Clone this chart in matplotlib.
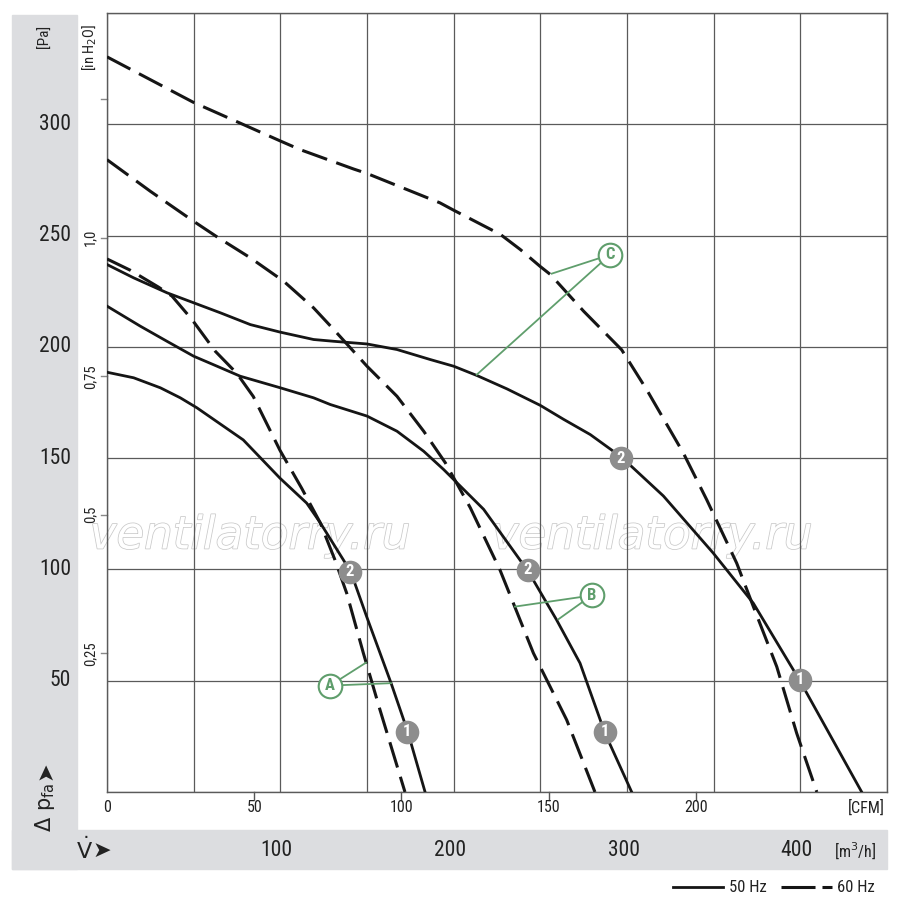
import matplotlib
matplotlib.use('Agg')
import matplotlib.pyplot as plt
from matplotlib.patches import Rectangle
from matplotlib.lines import Line2D
from matplotlib import transforms as mtrans
import matplotlib.patheffects as pe

plt.rcParams['font.family'] = ['Roboto Condensed', 'Roboto', 'DejaVu Sans']
plt.rcParams['lines.scale_dashes'] = False

# curves: flow [m3/h] and pressure [Pa]
a50_q = [0, 15.4, 30.8, 42.3, 51.9, 78.6, 99.8, 115.2, 123, 140.6, 149.8, 163.9, 173.5, 183.5]
a50_p = [188.6, 186.1, 181.6, 177.1, 172.6, 158.2, 141, 129.8, 121, 99, 78.8, 48.9, 27.1, 0]
a60_q = [0, 13.5, 29.8, 37.5, 49, 62.5, 75, 84.4, 99.8, 112.3, 123, 131.5, 138.3, 147.9, 157.5, 171.9]
a60_p = [239.5, 234.4, 226.8, 222.8, 212.3, 198, 188, 177.7, 153.5, 136.5, 121, 104.3, 89.3, 62.4, 36.9, 0]

b50_q = [0, 19.2, 34.6, 50, 63.5, 76.9, 100, 119.2, 128.8, 150, 167.3, 182.7, 194.2, 200, 217.3,
         243.1, 259.4, 272.9, 287.3, 302.7]
b50_p = [218.3, 209.3, 202.5, 195.8, 191.3, 186.8, 181.6, 177.1, 174.1, 168.9, 162.1, 153.1, 144.9,
         140.4, 127, 99, 77.3, 57.9, 26.4, 0]
b60_q = [0, 25, 50, 63.5, 82.7, 101.9, 119.2, 130.8, 150, 167.3, 182.7, 195.2, 209.6, 226.7, 246,
         265.2, 281.5]
b60_p = [284.1, 269.9, 256.4, 249.4, 240, 229.5, 217.5, 207.8, 191.3, 177.8, 162.1, 147.9, 127.7,
         99.8, 62.4, 32.4, 0]

c50_q = [0, 15.4, 34.6, 50, 65.4, 82.7, 100, 119.2, 130.8, 150, 167.3, 186.5, 200, 213.5, 230.8,
         250, 263.5, 278.8, 296.9, 321, 349.8, 372.9, 399.8, 435.4]
c50_p = [237, 231, 224.3, 219.8, 215.3, 210, 206.6, 203.3, 202.5, 201.3, 198.8, 194.3, 191.3, 187.1,
         181.1, 173.7, 167.4, 160.6, 150.4, 133, 107.3, 84.8, 49.9, 0]
c60_q = [0, 50, 100, 111.5, 142.3, 150, 192.1, 200, 227, 238.5, 249.8, 255.8, 275, 296.9, 311.4,
         332.5, 346, 363.3, 372.9, 386.4, 397.9, 409.5]
c60_p = [330.3, 309.8, 292.5, 288.6, 279.9, 277.9, 264.7, 261.4, 250.5, 243.7, 236.2, 232.5, 216,
         198.7, 180.7, 152.3, 131.3, 102.8, 83.3, 56.3, 26.4, 0]

# operating points 1 / 2
pt_labels = ['2', '1', '2', '1', '2', '1']
pt_q = [140.2, 173.1, 242.9, 287.2, 296.5, 399.8]
pt_p = [98.9, 27.0, 99.8, 27.0, 149.9, 50.4]

# curve letters and their leader ends
letters = ['A', 'B', 'C']
letter_q = [128.6, 279.6, 290.2]
letter_p = [47.8, 88.3, 241.4]
leader_q = [[149.4, 163.9], [235.4, 260.4], [256.6, 213.3]]
leader_p = [[58.1, 48.9], [83.3, 77.6], [232.9, 187.5]]

pa_ticks = [50, 100, 150, 200, 250, 300]
inh2o_ticks = [0.25, 0.5, 0.75, 1.0, 1.25]
inh2o_labels = ['0,25', '0,5', '0,75', '1,0', '']
cfm_ticks = [50, 100, 150, 200]
m3h_ticks = [100, 200, 300, 400]

PA_PER_INH2O = 249.089
M3H_PER_CFM = 1.69901

W, H = 900, 908
def fx(x):
    return x / W
def fy(y):
    return 1 - y / H

band = '#dcdde0'
grid = '#5a5a5a'
green = '#5f9e6c'
txt = '#222222'

fig = plt.figure(figsize=(9, 9.08), dpi=100)
fig.add_artist(Rectangle((fx(12), fy(869)), fx(77) - fx(12), fy(15) - fy(869),
                         transform=fig.transFigure, color=band, zorder=0))
fig.add_artist(Rectangle((fx(12), fy(869)), fx(887) - fx(12), fy(830) - fy(869),
                         transform=fig.transFigure, color=band, zorder=0))

ax = fig.add_axes([fx(107), fy(792), fx(887) - fx(107), fy(13) - fy(792)])
ax.set_xlim(0, 450)
ax.set_ylim(0, 350)
ax.set_xticks(range(0, 451, 50))
ax.set_yticks(range(0, 351, 50))
ax.grid(True, color=grid, lw=0.9)
ax.tick_params(length=0, labelbottom=False, labelleft=False)
for s in ax.spines.values():
    s.set_color(grid)
    s.set_linewidth(1.0)

# watermark
for q0 in [-10, 222]:
    ax.text(q0, 115, 'ventilatorry.ru', fontsize=32.5, style='italic', family='DejaVu Sans',
            color='white', va='center', ha='left', zorder=1.5, clip_on=False,
            path_effects=[pe.Stroke(linewidth=1.1, foreground='#c9c9c9'), pe.Normal()])

# curves
solid_kw = dict(color='#151515', lw=2.0, zorder=3, solid_joinstyle='round')
dash_kw = dict(color='#151515', lw=2.2, zorder=3, dashes=(19, 7), dash_capstyle='butt',
               dash_joinstyle='round')
ax.plot(a50_q, a50_p, **solid_kw)
ax.plot(b50_q, b50_p, **solid_kw)
ax.plot(c50_q, c50_p, **solid_kw)
ax.plot(a60_q, a60_p, **dash_kw)
ax.plot(b60_q, b60_p, **dash_kw)
ax.plot(c60_q, c60_p, **dash_kw)

# operating points
for lab, q, p in zip(pt_labels, pt_q, pt_p):
    ax.plot(q, p, 'o', ms=17, color='#8d8d8d', mec='none', zorder=5)
    ax.text(q, p, lab, color='white', fontsize=12, fontweight='bold',
            ha='center', va='center', zorder=6)

# curve letters
for lab, q, p, lq, lp in zip(letters, letter_q, letter_p, leader_q, leader_p):
    for q1, p1 in zip(lq, lp):
        ax.plot([q, q1], [p, p1], color=green, lw=1.3, zorder=4)
    ax.plot(q, p, 'o', ms=17, mfc='white', mec=green, mew=1.5, zorder=5)
    ax.text(q, p, lab, color=green, fontsize=12, fontweight='bold',
            ha='center', va='center', zorder=6)

left_t = mtrans.blended_transform_factory(fig.transFigure, ax.transData)
bot_t = mtrans.blended_transform_factory(ax.transData, fig.transFigure)

# Pa axis
for p in pa_ticks:
    fig.text(fx(71), p, str(p), transform=left_t, fontsize=15.5, color=txt,
             ha='right', va='center')
fig.text(fx(45), fy(36), '[Pa]', fontsize=11, rotation=90, ha='center', va='center',
         color=txt)

# in H2O axis
for v, lab in zip(inh2o_ticks, inh2o_labels):
    y = v * PA_PER_INH2O
    ax.plot([fx(101), fx(107)], [y, y], transform=left_t, color='#888888', lw=1,
            clip_on=False)
    if lab:
        fig.text(fx(90), y, lab, transform=left_t, fontsize=10.5, rotation=90,
                 ha='center', va='center', color=txt)
fig.text(fx(90), fy(47), '[in H$_2$O]', fontsize=10.5, rotation=90, ha='center',
         va='center', color=txt)

# CFM axis
fig.text(0, fy(808), '0', transform=bot_t, fontsize=11.5, ha='center', va='center',
         color=txt)
for c in cfm_ticks:
    x = c * M3H_PER_CFM
    ax.plot([x, x], [fy(792), fy(800)], transform=bot_t, color='#555555', lw=1,
            clip_on=False)
    fig.text(x, fy(808), str(c), transform=bot_t, fontsize=11.5, ha='center',
             va='center', color=txt)
fig.text(fx(885), fy(808), '[CFM]', fontsize=11.5, ha='right', va='center',
         color=txt)

# m3/h axis
for m in m3h_ticks:
    fig.text(m - 2, fy(850), str(m), transform=bot_t, fontsize=15.5, ha='center',
             va='center', color=txt)
fig.text(fx(876), fy(851), '[m$^3$/h]', fontsize=11.5, ha='right', va='center',
         color=txt)
fig.text(fx(76), fy(851), r'$\dot{\mathrm{V}}$', fontsize=16, ha='left',
         va='center', color=txt)
fig.text(fx(93), fy(851), '\u27a4', fontsize=16, ha='left', va='center',
         family='DejaVu Sans', color=txt)

# delta p label
fig.text(fx(45), fy(832), r'$\Delta\ \mathrm{p}_{\mathrm{fa}}$', fontsize=15,
         rotation=90, ha='center', va='bottom', color=txt)
fig.text(fx(45), fy(771), '\u27a4', fontsize=16, rotation=90, ha='center',
         va='center', family='DejaVu Sans', color=txt)

# legend
fig.add_artist(Line2D([fx(673), fx(723)], [fy(887), fy(887)], color='#151515',
                      lw=2.0, transform=fig.transFigure))
fig.text(fx(729), fy(887), '50 Hz', fontsize=12, ha='left', va='center', color=txt)
fig.add_artist(Line2D([fx(781), fx(832)], [fy(887), fy(887)], color='#151515',
                      lw=2.2, dashes=(24.5, 5, 7.5, 5), dash_capstyle='butt',
                      transform=fig.transFigure))
fig.text(fx(837), fy(887), '60 Hz', fontsize=12, ha='left', va='center', color=txt)

fig.savefig('out.png', dpi=100)
